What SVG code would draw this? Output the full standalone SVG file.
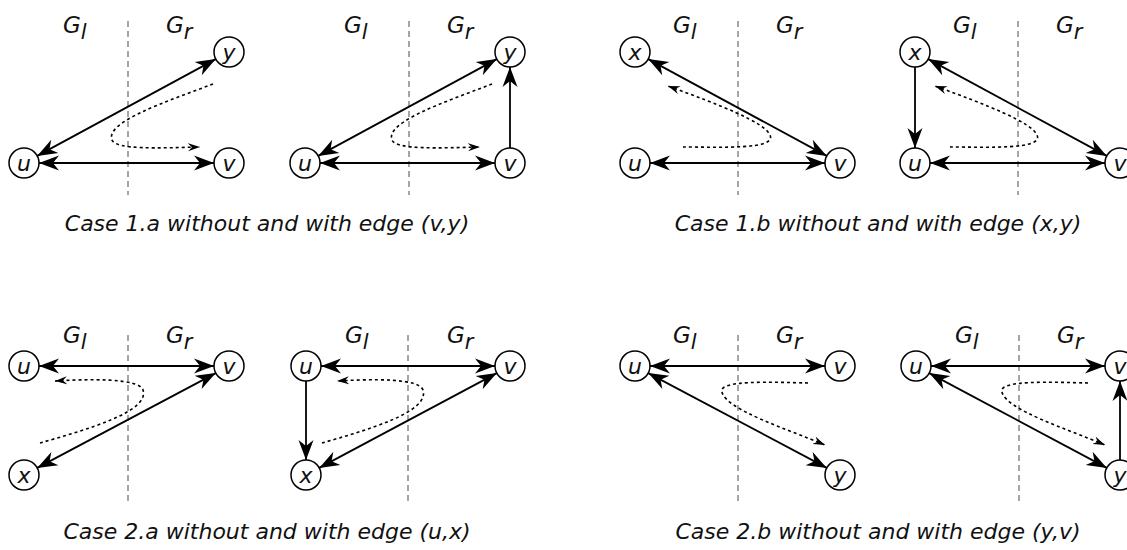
<svg xmlns="http://www.w3.org/2000/svg" width="1127" height="550" viewBox="0 0 1127 550">
<style>
text{font-family:"DejaVu Sans","Liberation Sans",sans-serif;font-style:italic;fill:#111}
.lbl{font-size:22px;text-anchor:middle;dominant-baseline:central}
.g{font-size:23px}
.cap{font-size:22px;text-anchor:middle}
.node circle{fill:#fff;stroke:#000;stroke-width:1.5}
.e{stroke:#000;stroke-width:1.8;fill:none;marker-end:url(#ah)}
.d{marker-start:url(#ah)}
.dot{stroke:#000;stroke-width:1.6;fill:none;stroke-dasharray:3 3;marker-end:url(#sh)}
.sep{stroke:#888;stroke-width:1.5;stroke-dasharray:6 4}
</style>
<defs>
<marker id="ah" markerUnits="userSpaceOnUse" markerWidth="22" markerHeight="17" refX="20" refY="7.5" orient="auto-start-reverse" viewBox="0 0 22 15">
<path d="M0,0 L20,7.5 L0,15 L6,7.5 z" fill="#000"/>
</marker>
<marker id="sh" markerUnits="userSpaceOnUse" markerWidth="14" markerHeight="9" refX="12" refY="4" orient="auto" viewBox="0 0 14 8">
<path d="M0,0 L12,4 L0,8 L4,4 z" fill="#000"/>
</marker>
</defs>

<g id="separators">
<line class="sep" x1="128" y1="21" x2="128" y2="195"/>
<line class="sep" x1="409" y1="21" x2="409" y2="195"/>
<line class="sep" x1="738" y1="21" x2="738" y2="195"/>
<line class="sep" x1="1018" y1="21" x2="1018" y2="195"/>
<line class="sep" x1="128" y1="335" x2="128" y2="505"/>
<line class="sep" x1="408" y1="335" x2="408" y2="505"/>
<line class="sep" x1="738" y1="335" x2="738" y2="505"/>
<line class="sep" x1="1019" y1="335" x2="1019" y2="505"/>
</g>

<g id="region-labels">
<text class="g" x="63" y="33">G<tspan dy="6" font-size="21">l</tspan></text>
<text class="g" x="166" y="33">G<tspan dy="6" font-size="21">r</tspan></text>
<text class="g" x="344" y="33">G<tspan dy="6" font-size="21">l</tspan></text>
<text class="g" x="447" y="33">G<tspan dy="6" font-size="21">r</tspan></text>
<text class="g" x="673" y="33">G<tspan dy="6" font-size="21">l</tspan></text>
<text class="g" x="776" y="33">G<tspan dy="6" font-size="21">r</tspan></text>
<text class="g" x="953" y="33">G<tspan dy="6" font-size="21">l</tspan></text>
<text class="g" x="1056" y="33">G<tspan dy="6" font-size="21">r</tspan></text>
<text class="g" x="63" y="343">G<tspan dy="6" font-size="21">l</tspan></text>
<text class="g" x="166" y="343">G<tspan dy="6" font-size="21">r</tspan></text>
<text class="g" x="345" y="343">G<tspan dy="6" font-size="21">l</tspan></text>
<text class="g" x="447" y="343">G<tspan dy="6" font-size="21">r</tspan></text>
<text class="g" x="673" y="343">G<tspan dy="6" font-size="21">l</tspan></text>
<text class="g" x="776" y="343">G<tspan dy="6" font-size="21">r</tspan></text>
<text class="g" x="955" y="343">G<tspan dy="6" font-size="21">l</tspan></text>
<text class="g" x="1057" y="343">G<tspan dy="6" font-size="21">r</tspan></text>
</g>

<g id="connectors">
<!-- P1 -->
<line class="e d" x1="39" y1="163" x2="214" y2="163"/>
<line class="e d" x1="37.2" y1="155.9" x2="215.8" y2="59.1"/>
<path class="dot" d="M213,84 C165,102 105,122 112,140 C116,150 160,148 200,147"/>
<!-- P2 -->
<line class="e d" x1="320" y1="163" x2="495" y2="163"/>
<line class="e d" x1="318.2" y1="155.9" x2="496.8" y2="59.1"/>
<line class="e" x1="510" y1="148" x2="510" y2="67"/>
<path class="dot" d="M492,84 C445,102 385,122 392,140 C396,150 440,148 480,147"/>
<!-- P3 -->
<line class="e d" x1="650" y1="163" x2="825" y2="163"/>
<line class="e d" x1="648.2" y1="59.1" x2="826.8" y2="155.9"/>
<path class="dot" d="M683,147 C720,147 777,150 770,135 C764,122 720,105 668,86"/>
<!-- P4 -->
<line class="e d" x1="930" y1="163" x2="1105" y2="163"/>
<line class="e d" x1="928.2" y1="59.1" x2="1106.8" y2="155.9"/>
<line class="e" x1="915" y1="67" x2="915" y2="148"/>
<path class="dot" d="M950,147 C987,147 1044,150 1037,135 C1031,122 987,105 935,86"/>
<!-- P5 -->
<line class="e d" x1="39" y1="366" x2="214" y2="366"/>
<line class="e d" x1="37.2" y1="467.9" x2="215.8" y2="373.1"/>
<path class="dot" d="M40,443 C85,430 150,412 143,390 C139,378 90,379 55,381"/>
<!-- P6 -->
<line class="e d" x1="321" y1="366" x2="495" y2="366"/>
<line class="e d" x1="319.2" y1="467.9" x2="496.8" y2="373.1"/>
<line class="e" x1="306" y1="381" x2="306" y2="460"/>
<path class="dot" d="M322,443 C367,430 430,412 423,390 C419,378 372,379 337,381"/>
<!-- P7 -->
<line class="e d" x1="650" y1="366" x2="825" y2="366"/>
<line class="e d" x1="648.2" y1="373.1" x2="826.8" y2="467.9"/>
<path class="dot" d="M808,383 C770,382 718,380 722,392 C726,410 790,430 825,445"/>
<!-- P8 -->
<line class="e d" x1="931" y1="366" x2="1105" y2="366"/>
<line class="e d" x1="929.2" y1="373.1" x2="1106.8" y2="467.9"/>
<line class="e" x1="1120" y1="460" x2="1120" y2="381"/>
<path class="dot" d="M1088,383 C1050,382 998,380 1002,392 C1006,410 1070,430 1105,445"/>
</g>

<g id="p1-u" class="node"><circle cx="24" cy="163" r="15"/><text class="lbl" x="24" y="163">u</text></g>
<g id="p1-v" class="node"><circle cx="229" cy="163" r="15"/><text class="lbl" x="229" y="163">v</text></g>
<g id="p1-y" class="node"><circle cx="229" cy="52" r="15"/><text class="lbl" x="229" y="52">y</text></g>

<g id="p2-u" class="node"><circle cx="305" cy="163" r="15"/><text class="lbl" x="305" y="163">u</text></g>
<g id="p2-v" class="node"><circle cx="510" cy="163" r="15"/><text class="lbl" x="510" y="163">v</text></g>
<g id="p2-y" class="node"><circle cx="510" cy="52" r="15"/><text class="lbl" x="510" y="52">y</text></g>

<g id="p3-x" class="node"><circle cx="635" cy="52" r="15"/><text class="lbl" x="635" y="52">x</text></g>
<g id="p3-u" class="node"><circle cx="635" cy="163" r="15"/><text class="lbl" x="635" y="163">u</text></g>
<g id="p3-v" class="node"><circle cx="840" cy="163" r="15"/><text class="lbl" x="840" y="163">v</text></g>

<g id="p4-x" class="node"><circle cx="915" cy="52" r="15"/><text class="lbl" x="915" y="52">x</text></g>
<g id="p4-u" class="node"><circle cx="915" cy="163" r="15"/><text class="lbl" x="915" y="163">u</text></g>
<g id="p4-v" class="node"><circle cx="1120" cy="163" r="15"/><text class="lbl" x="1120" y="163">v</text></g>

<g id="p5-u" class="node"><circle cx="24" cy="366" r="15"/><text class="lbl" x="24" y="366">u</text></g>
<g id="p5-v" class="node"><circle cx="229" cy="366" r="15"/><text class="lbl" x="229" y="366">v</text></g>
<g id="p5-x" class="node"><circle cx="24" cy="475" r="15"/><text class="lbl" x="24" y="475">x</text></g>

<g id="p6-u" class="node"><circle cx="306" cy="366" r="15"/><text class="lbl" x="306" y="366">u</text></g>
<g id="p6-v" class="node"><circle cx="510" cy="366" r="15"/><text class="lbl" x="510" y="366">v</text></g>
<g id="p6-x" class="node"><circle cx="306" cy="475" r="15"/><text class="lbl" x="306" y="475">x</text></g>

<g id="p7-u" class="node"><circle cx="635" cy="366" r="15"/><text class="lbl" x="635" y="366">u</text></g>
<g id="p7-v" class="node"><circle cx="840" cy="366" r="15"/><text class="lbl" x="840" y="366">v</text></g>
<g id="p7-y" class="node"><circle cx="840" cy="475" r="15"/><text class="lbl" x="840" y="475">y</text></g>

<g id="p8-u" class="node"><circle cx="916" cy="366" r="15"/><text class="lbl" x="916" y="366">u</text></g>
<g id="p8-v" class="node"><circle cx="1120" cy="366" r="15"/><text class="lbl" x="1120" y="366">v</text></g>
<g id="p8-y" class="node"><circle cx="1120" cy="475" r="15"/><text class="lbl" x="1120" y="475">y</text></g>

<g id="captions">
<text class="cap" x="267" y="231">Case 1.a without and with edge (v,y)</text>
<text class="cap" x="878" y="231">Case 1.b without and with edge (x,y)</text>
<text class="cap" x="267" y="539">Case 2.a without and with edge (u,x)</text>
<text class="cap" x="878" y="539">Case 2.b without and with edge (y,v)</text>
</g>
</svg>
